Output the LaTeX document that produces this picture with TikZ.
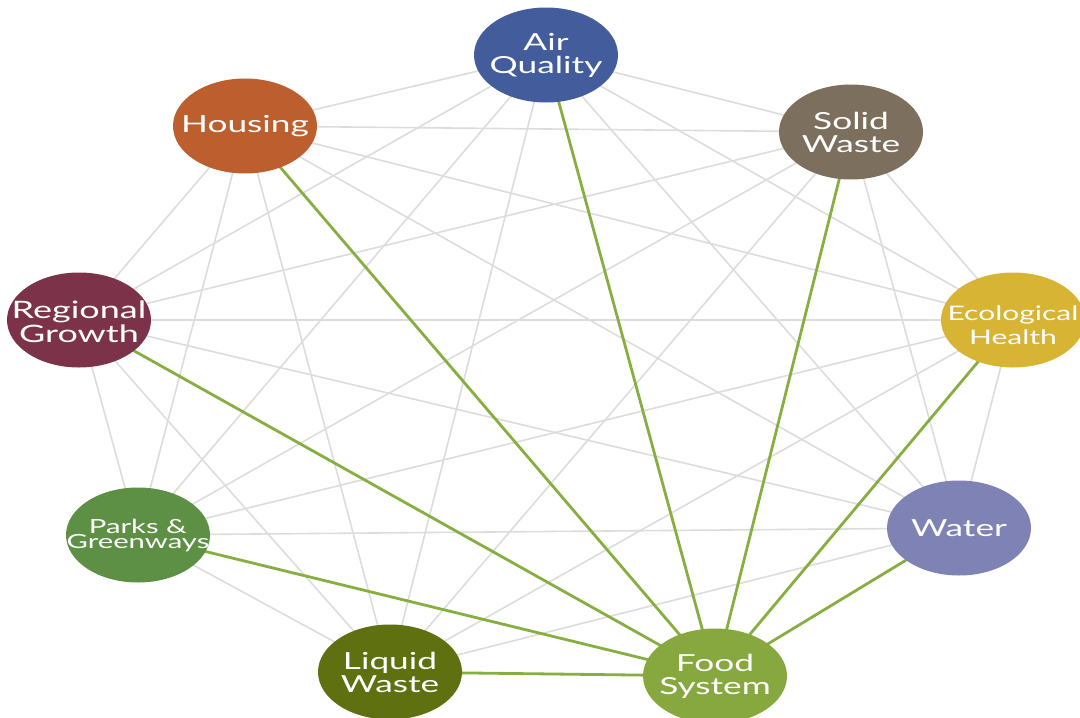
\documentclass[tikz,border=0pt]{standalone}
\usepackage{fontspec}
\setmainfont{Lato}[FakeStretch=1.5]
\usetikzlibrary{shapes.geometric,backgrounds}
\definecolor{cAQ}{HTML}{435C9B}
\definecolor{cH}{HTML}{BC5E2E}
\definecolor{cSW}{HTML}{7D6F5E}
\definecolor{cRG}{HTML}{7C3349}
\definecolor{cEH}{HTML}{D8B435}
\definecolor{cPG}{HTML}{5D8F45}
\definecolor{cW}{HTML}{7F82B5}
\definecolor{cLW}{HTML}{5E700F}
\definecolor{cFS}{HTML}{86A83E}
\definecolor{gline}{HTML}{86AE40}
\definecolor{lgray}{HTML}{DCDCDC}
\tikzset{
  topic/.style={ellipse, minimum width=144pt, minimum height=95pt, inner sep=0pt},
  topictext/.style={text=white, align=center, inner sep=0pt,
    font=\fontsize{23.5}{23}\selectfont},
  grayedge/.style={draw=lgray, line width=1.6pt},
  greenedge/.style={draw=gline, line width=2.8pt},
}
\begin{document}
\begin{tikzpicture}[x=1pt,y=-1pt]
\useasboundingbox (0,0) rectangle (1080,718);
\clip (0,0) rectangle (1080,718);
\node[topic, fill=cAQ, label={[name=AQt, topictext]center:Air\\Quality}] (AQ) at (546,55) {};
\node[topic, fill=cH, label={[name=Ht, topictext]center:Housing}] (H) at (245,126) {};
\node[topic, fill=cSW, label={[name=SWt, topictext]center:Solid\\Waste}] (SW) at (851,132) {};
\node[topic, fill=cRG, label={[name=RGt, topictext, yshift=-2pt, font=\fontsize{24}{24}\selectfont]center:Regional\\Growth}] (RG) at (79,320) {};
\node[topic, fill=cEH, label={[name=EHt, topictext, yshift=-5pt, font=\fontsize{20}{24}\selectfont]center:Ecological\\Health}] (EH) at (1013,320) {};
\node[topic, fill=cPG, label={[name=PGt, topictext, font=\fontsize{19.5}{15}\selectfont]center:Parks \&\\Greenways}] (PG) at (138,535) {};
\node[topic, fill=cW, label={[name=Wt, topictext]center:Water}] (W) at (959,528) {};
\node[topic, fill=cLW, label={[name=LWt, topictext]center:Liquid\\Waste}] (LW) at (390,672) {};
\node[topic, fill=cFS, label={[name=FSt, topictext]center:Food\\System}] (FS) at (715,676) {};
\begin{scope}[on background layer]
\foreach \a/\b in {AQ/H,AQ/SW,AQ/RG,AQ/EH,AQ/PG,AQ/W,AQ/LW,
  H/SW,H/RG,H/EH,H/PG,H/W,H/LW,
  SW/RG,SW/EH,SW/PG,SW/W,SW/LW,
  RG/EH,RG/PG,RG/W,RG/LW,
  EH/PG,EH/W,EH/LW,
  PG/W,PG/LW,
  W/LW}
  \draw[grayedge] (\a.center) -- (\b.center);
\foreach \a in {AQ,H,SW,RG,EH,PG,W,LW}
  \draw[greenedge] (FS.center) -- (\a.center);
\end{scope}
\end{tikzpicture}
\end{document}
